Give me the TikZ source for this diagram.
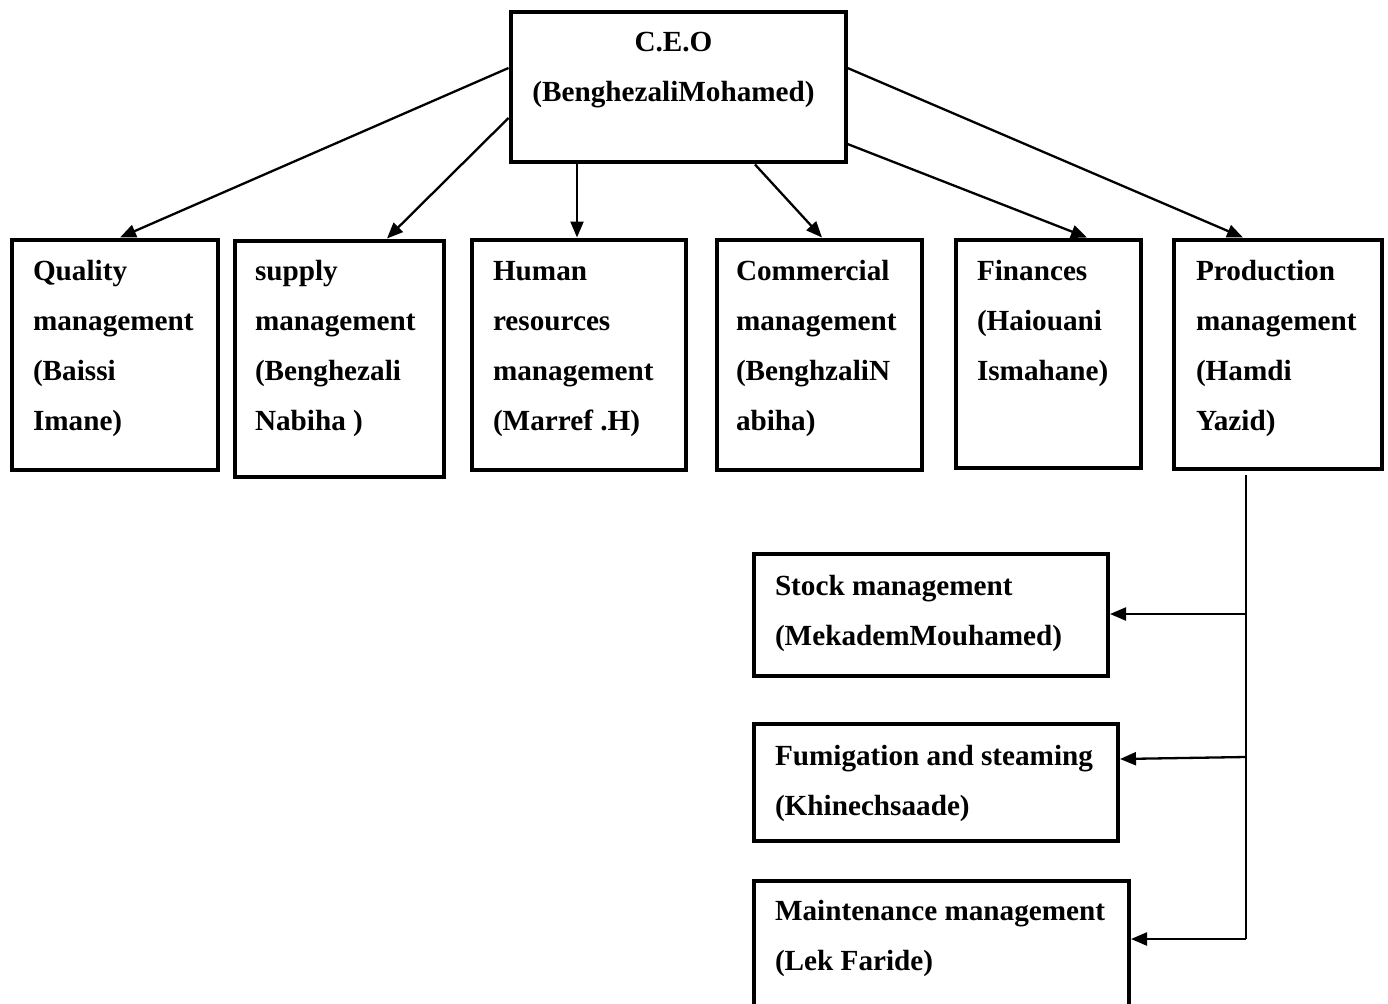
\documentclass[tikz,border=0pt]{standalone}
\usepackage{fontspec}
\setmainfont{Liberation Serif}
\usetikzlibrary{arrows.meta}
\tikzset{
  box/.style={draw, line width=4pt, inner sep=0pt},
  txt/.style={font=\bfseries\fontsize{29.2}{50}\selectfont, align=left, inner sep=0pt, outer sep=0pt, anchor=north west},
  conn/.style={line width=2.3pt, -{Triangle[length=16pt,width=13pt]}},
  bus/.style={line width=2.3pt}
}
\begin{document}
\begin{tikzpicture}[x=1pt,y=1pt]
\useasboundingbox (0,0) rectangle (1388,-1003);
\clip (0,0) rectangle (1388,-1003);
% boxes
\node[box, minimum width=335pt, minimum height=150pt] (ceo) at (678,-87.5) {};
\node[box, minimum width=206pt, minimum height=230pt] (q) at (115,-354.5) {};
\node[box, minimum width=209.5pt, minimum height=236pt] (s) at (339.25,-358.5) {};
\node[box, minimum width=213.5pt, minimum height=230pt] (h) at (578.75,-354.5) {};
\node[box, minimum width=205pt, minimum height=230pt] (c) at (819.5,-354.5) {};
\node[box, minimum width=184.5pt, minimum height=228pt] (f) at (1048.25,-353.5) {};
\node[box, minimum width=207.5pt, minimum height=229.5pt] (p) at (1277.75,-354.25) {};
\node[box, minimum width=354pt, minimum height=121.5pt] (st) at (931,-614.75) {};
\node[box, minimum width=364pt, minimum height=116.5pt] (fu) at (936,-782.25) {};
\node[box, minimum width=375pt, minimum height=139.5pt] (ma) at (941.5,-950.25) {};
% texts
\node[txt, align=center, anchor=north] (ceot) at (673.5,-16.5) {\strut C.E.O\\(BenghezaliMohamed)};
\node[txt] (qt) at (33,-245) {\strut Quality\\management\\(Baissi\\Imane)};
\node[txt] (stt) at (255,-245) {\strut supply\\management\\(Benghezali\\Nabiha )};
\node[txt] (ht) at (493,-245) {\strut Human\\resources\\management\\(Marref .H)};
\node[txt] (ct) at (736,-245) {\strut Commercial\\management\\(BenghzaliN\\abiha)};
\node[txt] (ft) at (977,-245) {\strut Finances\\(Haiouani\\Ismahane)};
\node[txt] (pt) at (1196,-245) {\strut Production\\management\\(Hamdi\\Yazid)};
\node[txt] (stkt) at (775,-560) {\strut Stock management\\(MekademMouhamed)};
\node[txt] (fut) at (775,-730) {\strut Fumigation and steaming\\(Khinechsaade)};
\node[txt] (mat) at (775,-885) {\strut Maintenance management\\(Lek Faride)};
% connectors from CEO
\draw[conn] (ceo.west |- 0,-68) -- (q.north -| 120,0);
\draw[conn] (ceo.west |- 0,-118) -- (s.north -| 387,0);
\draw[conn] (ceo.south -| 577,0) -- (h.north -| 577,0);
\draw[conn] (ceo.south -| 755,0) -- (c.north -| 822,0);
\draw[conn] (ceo.east |- 0,-144) -- (f.north -| 1087,0);
\draw[conn] (ceo.east |- 0,-68) -- (p.north -| 1243,0);
% production bus
\coordinate (ptop) at (1246,-475);
\coordinate (pbot) at (1246,-939);
\draw[bus] (ptop) -- (pbot);
\draw[conn] (pbot) -- (ma.east |- pbot);
\draw[conn] (ptop |- 0,-614) -- (st.east |- 0,-614);
\draw[conn] (ptop |- 0,-757) -- (fu.east |- 0,-759);
\end{tikzpicture}
\end{document}
